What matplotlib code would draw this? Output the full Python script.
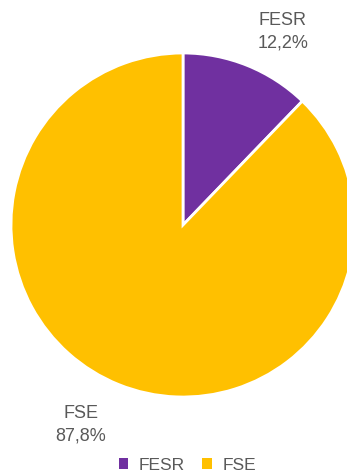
import matplotlib.pyplot as plt
from matplotlib.patches import Patch

labels = ['FESR', 'FSE']
values = [12.2, 87.8]
colors = ['#7030A0', '#FFC000']

plt.rcParams['font.family'] = ['Liberation Sans', 'DejaVu Sans']
TXT = '#595959'

fig = plt.figure(figsize=(3.47, 4.75), dpi=100)
ax = fig.add_axes([0, 0, 1, 1])
ax.set_xlim(0, 347)
ax.set_ylim(0, 475)
ax.set_aspect('equal')
ax.axis('off')

ax.pie(values, colors=colors, startangle=90, counterclock=False,
       center=(183, 250), radius=172,
       wedgeprops=dict(edgecolor='white', linewidth=2))
ax.set_xlim(0, 347)
ax.set_ylim(0, 475)

# data labels
label_pos = [(283, 443), (81, 50)]
for lab, v, (x, y) in zip(labels, values, label_pos):
    pct = f"{v:.1f}%".replace('.', ',')
    ax.text(x, y, f"{lab}\n{pct}", ha='center', va='center',
            fontsize=13, color=TXT, linespacing=1.45)

handles = [Patch(facecolor=c, edgecolor='none') for c in colors]
fig.legend(handles, labels, loc='center', bbox_to_anchor=(0.54, 0.021),
           ncol=2, frameon=False, fontsize=12.5, labelcolor=TXT,
           handlelength=0.55, handleheight=0.55, handletextpad=0.6,
           columnspacing=1.0, borderpad=0.1)

fig.savefig('out.png', dpi=100)
